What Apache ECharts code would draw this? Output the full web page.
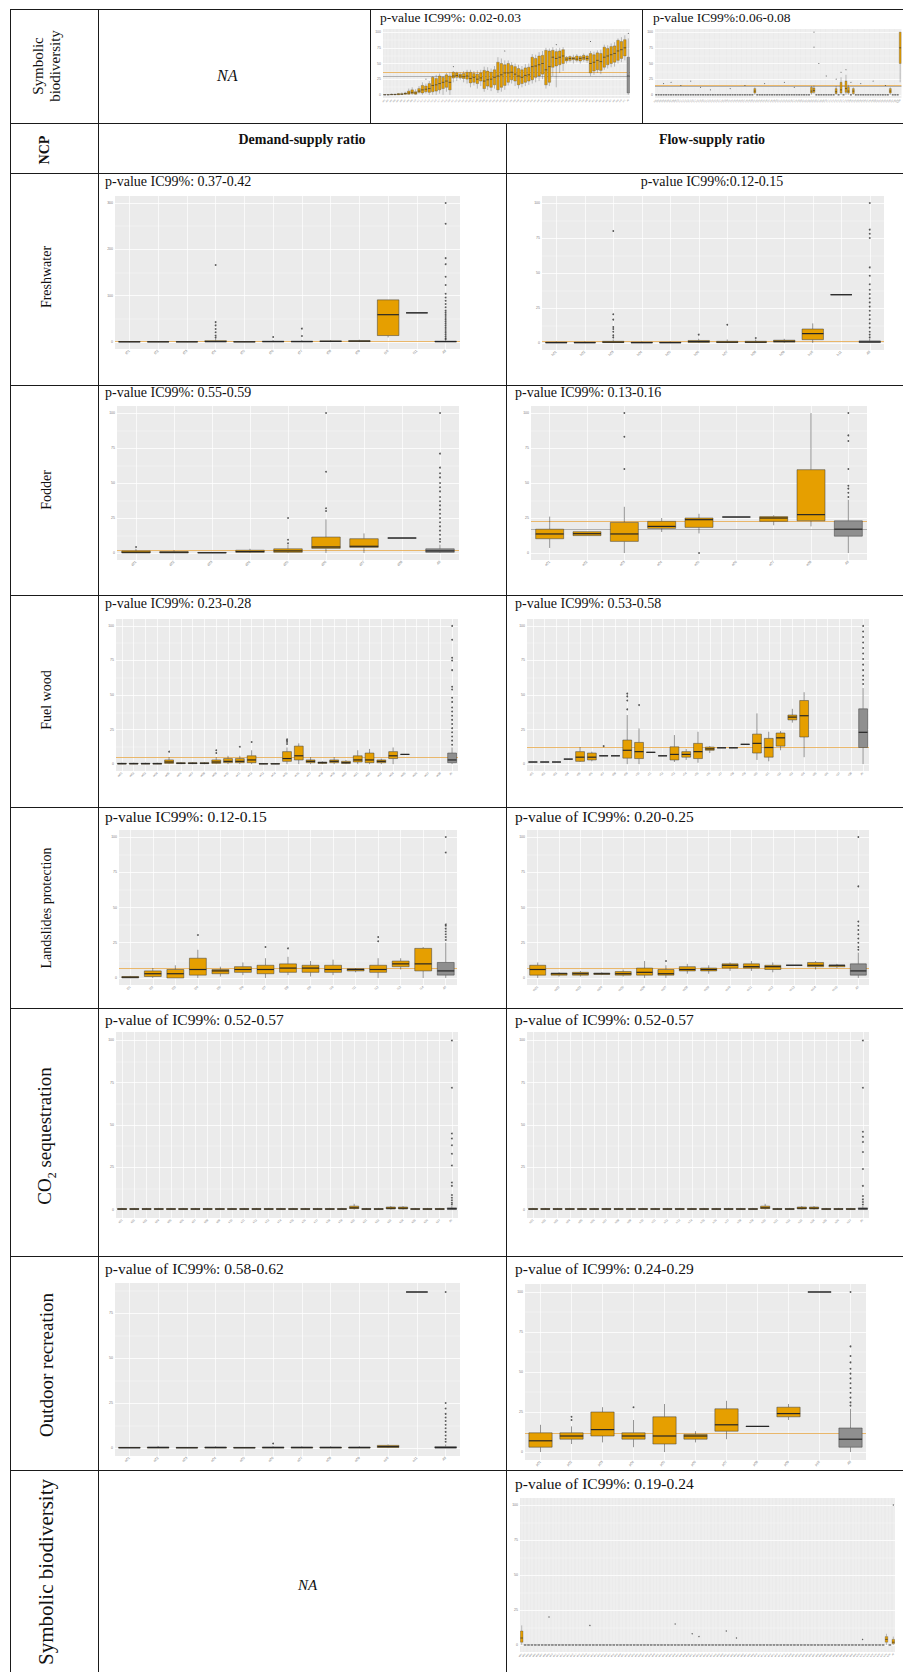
<!DOCTYPE html>
<html><head><meta charset="utf-8">
<script src="https://cdn.jsdelivr.net/npm/echarts@6/dist/echarts.min.js"></script>
<style>
html,body{margin:0;padding:0;background:#fff;}
#page{position:relative;width:903px;height:1672px;overflow:hidden;font-family:"Liberation Serif","DejaVu Serif",serif;color:#111;}
#chart{position:absolute;left:0;top:0;width:903px;height:1672px;}
.h{position:absolute;height:0;border-top:1.6px solid #1a1a1a;}
.v{position:absolute;width:0;border-left:1.6px solid #1a1a1a;}
.t{position:absolute;white-space:nowrap;line-height:1;}
.rot{position:absolute;white-space:nowrap;transform:translate(-50%,-50%) rotate(-90deg);text-align:center;line-height:1.1;}
</style></head>
<body>
<div id="page">
<div id="chart"></div>
<!-- table lines -->
<div class="h" style="left:10px;top:9px;width:900px"></div>
<div class="h" style="left:10px;top:123px;width:900px"></div>
<div class="h" style="left:10px;top:173px;width:900px"></div>
<div class="h" style="left:10px;top:385px;width:900px"></div>
<div class="h" style="left:10px;top:595px;width:900px"></div>
<div class="h" style="left:10px;top:807px;width:900px"></div>
<div class="h" style="left:10px;top:1008px;width:900px"></div>
<div class="h" style="left:10px;top:1256px;width:900px"></div>
<div class="h" style="left:10px;top:1470px;width:900px"></div>
<div class="v" style="left:10px;top:9px;height:1670px"></div>
<div class="v" style="left:98px;top:9px;height:1670px"></div>
<div class="v" style="left:370px;top:9px;height:114px"></div>
<div class="v" style="left:642px;top:9px;height:114px"></div>
<div class="v" style="left:506px;top:123px;height:1560px"></div>
<!-- texts -->
<div class="rot" style="left:46px;top:66px;font-size:15px">Symbolic<br>biodiversity</div>
<div class="t" style="left:217px;top:68px;font-size:16px;font-style:italic">NA</div>
<div class="t" style="left:380px;top:11px;font-size:13.5px">p-value IC99%: 0.02-0.03</div>
<div class="t" style="left:653px;top:11px;font-size:13.5px">p-value IC99%:0.06-0.08</div>
<div class="rot" style="left:45px;top:150px;font-size:14px;font-weight:bold">NCP</div>
<div class="t" style="left:302px;top:133px;font-size:14px;font-weight:bold;transform:translateX(-50%)">Demand-supply ratio</div>
<div class="t" style="left:712px;top:133px;font-size:14px;font-weight:bold;transform:translateX(-50%)">Flow-supply ratio</div>

<div class="rot" style="left:47px;top:277px;font-size:14px">Freshwater</div>
<div class="t" style="left:105px;top:175px;font-size:14px">p-value IC99%: 0.37-0.42</div>
<div class="t" style="left:712px;top:175px;font-size:14px;transform:translateX(-50%)">p-value IC99%:0.12-0.15</div>

<div class="rot" style="left:47px;top:490px;font-size:14px">Fodder</div>
<div class="t" style="left:105px;top:386px;font-size:14px">p-value IC99%: 0.55-0.59</div>
<div class="t" style="left:515px;top:386px;font-size:14px">p-value IC99%: 0.13-0.16</div>

<div class="rot" style="left:47px;top:700px;font-size:14px">Fuel wood</div>
<div class="t" style="left:105px;top:597px;font-size:14px">p-value IC99%: 0.23-0.28</div>
<div class="t" style="left:515px;top:597px;font-size:14px">p-value IC99%: 0.53-0.58</div>

<div class="rot" style="left:47px;top:908px;font-size:14px">Landslides protection</div>
<div class="t" style="left:105px;top:809px;font-size:15.5px">p-value IC99%: 0.12-0.15</div>
<div class="t" style="left:515px;top:809px;font-size:15.5px">p-value of IC99%: 0.20-0.25</div>

<div class="rot" style="left:47px;top:1136px;font-size:19px">CO<sub style="font-size:12px">2</sub> sequestration</div>
<div class="t" style="left:105px;top:1012px;font-size:15.5px">p-value of IC99%: 0.52-0.57</div>
<div class="t" style="left:515px;top:1012px;font-size:15.5px">p-value of IC99%: 0.52-0.57</div>

<div class="rot" style="left:47px;top:1365px;font-size:19px">Outdoor recreation</div>
<div class="t" style="left:105px;top:1261px;font-size:15.5px">p-value of IC99%: 0.58-0.62</div>
<div class="t" style="left:515px;top:1261px;font-size:15.5px">p-value of IC99%: 0.24-0.29</div>

<div class="rot" style="left:47px;top:1572px;font-size:21px">Symbolic biodiversity</div>
<div class="t" style="left:298px;top:1578px;font-size:15px;font-style:italic">NA</div>
<div class="t" style="left:515px;top:1476px;font-size:15.5px">p-value of IC99%: 0.19-0.24</div>
</div>
<script>
// ================= DATA =================
// box = [min, Q1, median, Q3, max]; outliers = [categoryIndex, value]
const tickLabels100 = [0, 25, 50, 75, 100];
const tickLabels300 = [0, 100, 200, 300];
const tickLabels75 = [0, 25, 50, 75];

// --- Symbolic biodiversity (top row, demand-supply) ---
const topDsrCats = "a01 a02 a03 a04 a05 a06 a07 a08 a09 a10 a11 a12 a13 a14 a15 a16 a17 a18 a19 a20 a21 a22 a23 a24 a25 a26 a27 a28 a29 a30 a31 a32 a33 a34 a35 a36 a37 a38 a39 a40 a41 a42 a43 a44 a45 a46 a47 a48 a49 a50 a51 a52 a53 a54 a55 a56 a57 a58 a59 a60 a61 a62 a63 a64 a65 a66 a67 a68 a69 a70 a71 All".split(" ");
const topDsrBox = [[0,0,0,0.5,1],[0,0,0,0.5,1],[0,0,0.5,1,2],[0,0,0.5,1,2],[0,0,1,2,3],[0,0.5,1,2,4],[0,1,2,3,5],[0,1,3,6,10],[0,2,4,8,12],[0,1,3,5,9],
[2,4,6,10,14],[0,3,8,15,20],[2,5,9,14,18],[0,4,10,18,22],[0,5,15,28,30],[0,6,16,26,32],[2,8,18,30,34],[0,10,20,28,30],[5,12,22,32,35],[0,8,20,30,36],
[20,27,30,36,38],[22,28,31,35,37],[24,27,30,33,36],[20,26,29,34,38],[18,25,30,36,40],[12,19,26,36,40],[15,20,28,34,38],[10,18,25,33,39],[14,22,27,35,40],[5,10,22,39,45],
[8,14,24,38,44],[6,12,25,36,42],[10,16,28,40,46],[3,8,30,52,60],[5,12,32,50,58],[8,15,35,48,55],[15,20,35,50,55],[18,24,36,47,52],[14,22,33,45,50],[10,16,30,42,48],
[12,18,28,40,46],[14,20,31,43,49],[16,22,32,44,50],[18,24,45,60,65],[20,28,46,58,64],[22,30,48,62,68],[25,33,50,63,70],[10,16,40,71,75],[14,20,45,70,74],[30,44,60,71,76],
[12,46,58,69,74],[35,48,60,70,75],[38,50,62,72,76],[50,54,57,60,62],[52,55,58,61,63],[50,56,58,60,64],[52,55,57,62,65],[50,54,58,61,63],[53,56,59,63,66],[51,55,58,62,64],
[30,35,50,66,70],[32,38,52,64,69],[35,40,55,67,71],[33,39,53,66,72],[40,44,60,76,80],[42,48,62,74,79],[44,50,64,77,82],[45,52,66,78,84],[50,55,70,87,90],[52,58,72,85,92],
[55,62,75,88,95],[0,3,30,60,90]];
const topDsrOut = [[12,25],[20,45],[35,70],[50,80],[60,85],[71,98]];

// --- Symbolic biodiversity (top row, flow-supply) ---
const topFsrCats = "b01 b02 b03 b04 b05 b06 b07 b08 b09 b10 b11 b12 b13 b14 b15 b16 b17 b18 b19 b20 b21 b22 b23 b24 b25 b26 b27 b28 b29 b30 b31 b32 b33 b34 b35 b36 b37 b38 b39 b40 b41 b42 b43 b44 b45 b46 b47 b48 b49 b50 b51 b52 b53 b54 b55 b56 b57 b58 b59 b60 b61 b62 b63 b64 b65 b66 b67 b68 b69 b70 b71 b72 b73 b74 b75 b76 b77 b78 b79 b80 b81 b82 b83 b84 b85 b86 b87 b88 b89 b90 b91 b92 b93 b94 b95 b96 b97 b98 b99 b100".split(" ");
const topFsrBox = [[0,0,0,0,0],[0,0,0,0,0],[0,0,0,0,0],[0,0,0,0,0],[0,0,0,0,0],[0,0,0,0,0],[0,0,0,0,0],[0,0,0,0,0],[0,0,0,0,0],[0,0,0,0,0],
[0,0,0,0,0],[0,0,0,0,0],[0,0,0,0,0],[0,0,0,0,0],[0,0,0,0,0],[0,0,0,0,0],[0,0,0,0,0],[0,0,0,0,0],[0,0,0,0,0],[0,0,0,0,0],
[0,0,0,0,0],[0,0,0,0,0],[0,0,0,0,0],[0,0,0,0,0],[0,0,0,0,0],[0,0,0,0,0],[0,0,0,0,0],[0,0,0,0,0],[0,0,0,0,0],[0,0,0,0,0],
[0,0,0,0,0],[0,0,0,0,0],[0,0,0,0,0],[0,0,0,0,0],[0,0,0,0,0],[0,0,0,0,0],[0,0,0,0,0],[0,0,0,0,0],[0,0,0,0,0],[0,0,0,0,0],
[0,3,6,10,12],[0,0,0,0,0],[0,0,0,0,0],[0,0,0,0,0],[0,0,0,0,0],[0,0,0,0,0],[0,0,0,0,0],[0,0,0,0,0],[0,0,0,0,0],[0,0,0,0,0],
[0,0,0,0,0],[0,0,0,0,0],[0,0,0,0,0],[0,0,0,0,0],[0,0,0,0,0],[0,0,0,0,0],[0,0,0,0,0],[0,0,0,0,0],[0,0,0,0,0],[0,0,0,0,0],
[0,0,0,0,0],[0,0,0,0,0],[0,0,0,0,0],[0,3,6,12,14],[2,4,7,11,15],[0,0,0,0,0],[0,0,0,0,0],[0,0,0,0,0],[0,0,0,0,0],[0,0,0,0,0],
[0,0,0,0,0],[0,0,0,0,0],[0,0,0,0,0],[0,2,5,10,14],[0,0,0,0,0],[0,3,8,20,28],[0,0,0,0,0],[0,4,10,22,32],[0,3,6,12,16],[0,0,0,0,0],
[0,2,6,10,12],[0,0,0,0,0],[0,0,0,0,0],[0,0,0,0,0],[0,0,0,0,0],[0,0,0,0,0],[0,0,0,0,0],[0,0,0,0,0],[0,0,0,0,0],[0,0,0,0,0],
[0,0,0,0,0],[0,0,0,0,0],[0,0,0,0,0],[0,0,0,0,0],[0,0,0,0,0],[0,3,6,10,12],[0,0,0,0,0],[0,0,0,0,0],[0,0,0,0,0],[20,50,75,100,100]];
const topFsrOut = [[3,18],[6,20],[10,15],[14,22],[18,12],[22,8],[30,10],[36,15],[44,18],[52,20],[56,12],[64,100],[64,76],[66,50],[69,30],[73,25],[75,36],[77,40],[79,20],[83,18],[88,22],[93,15]];

// --- Freshwater ---
const freshDsrCats = ['f01','f02','f03','f04','f05','f06','f07','f08','f09','f10','f11','All'];
const freshDsrBox = [[0,0,0.5,1,2],[0,0,0.5,1,2],[0,0,0.5,1,2],[0,0.5,1,3,8],[0,0,0.5,1,2],[0,0.5,1,2,4],[0,0.5,1,2,4],[0,1,1.5,2.5,4],[0,1,2,3,5],[10,14,59,91,91],[63,63,63,63,63],[0,0.5,1,2,4]];
const freshDsrOut = [[3,166],[3,43],[3,36],[3,28],[3,21],[3,14],[3,10],[5,11],[6,29],[6,13],[11,300],[11,255],[11,181],[11,168],[11,141],[11,123],[11,104],[11,96],[11,89],[11,82],[11,75],[11,68],[11,64],[11,60],[11,56],[11,52],[11,48],[11,44],[11,40],[11,36],[11,32],[11,28],[11,24],[11,20],[11,16],[11,12],[11,8],[11,6]];
const freshFsrCats = ['h01','h02','h03','h04','h05','h06','h07','h08','h09','h10','h11','All'];
const freshFsrBox = [[0,0,0.3,0.6,1],[0,0,0.3,0.6,1],[0,0.3,0.6,1.2,2.5],[0,0,0.3,0.6,1],[0,0,0.3,0.6,1],[0,0.4,1,1.8,3],[0,0.3,0.6,1.2,2.5],[0,0.3,0.6,1.2,2.5],[0,0.6,1.2,2,3],[0,2.4,6.7,10,14],[34.5,34.5,34.5,34.5,34.5],[0,0.3,0.8,1.5,3]];
const freshFsrOut = [[2,80],[2,20.5],[2,16.7],[2,11.4],[2,10],[2,8],[2,5.5],[2,4],[5,6],[6,13],[7,3.6],[11,100],[11,81],[11,78],[11,75],[11,54],[11,48],[11,42],[11,38],[11,35],[11,32],[11,29],[11,26],[11,23],[11,20],[11,17],[11,14],[11,11],[11,8],[11,6],[11,4]];

// --- Fodder ---
const fodDsrCats = ['d01','d02','d03','d04','d05','d06','d07','d08','All'];
const fodDsrBox = [[0,0,0.5,1.5,3],[0,0,0.5,1,2],[0,0,0.2,0.4,0.8],[0,0.5,1,2,3],[0,0.5,1.5,3,6],[0,3.3,4.3,11.4,24],[0,4,4.8,10.2,14],[10.7,10.7,10.7,10.7,10.7],[0,0.5,1.5,3,6]];
const fodDsrOut = [[0,4.3],[4,25],[4,9.5],[4,7],[5,100],[5,58],[5,32],[5,30],[8,100],[8,71],[8,61],[8,57],[8,54],[8,50],[8,47],[8,44],[8,40],[8,37],[8,34],[8,31],[8,28],[8,25],[8,22],[8,19],[8,16],[8,13],[8,10],[8,8]];
const fodFsrCats = ['e01','e02','e03','e04','e05','e06','e07','e08','All'];
const fodFsrBox = [[3.6,10.2,13.6,17,26],[12.4,12.4,13.8,15.2,15.2],[0,8.3,13.6,21.9,33],[15,17.6,19,22.6,25],[14,18.3,23.8,25,28],[25.7,25.7,25.7,25.7,25.7],[19.8,22.6,25,26,27],[19,23,27.4,59.5,100],[0,12,17,23,38]];
const fodFsrOut = [[2,100],[2,83],[2,60],[4,0],[8,100],[8,84],[8,80],[8,60],[8,48],[8,46],[8,43],[8,40]];

// --- Fuel wood ---
const fuelDsrCats = "w01 w02 w03 w04 w05 w06 w07 w08 w09 w10 w11 w12 w13 w14 w15 w16 w17 w18 w19 w20 w21 w22 w23 w24 w25 w26 w27 w28 All".split(" ");
const fuelDsrBox = [[0,0,0.3,0.6,1],[0,0,0.3,0.6,1],[0,0,0.3,0.6,1],[0,0,0.3,0.6,1],[0,0.5,1.5,3,5],[0,0.3,0.6,1,1.5],[0,0.3,0.6,1,1.5],[0,0.3,0.6,1,1.5],[0,0.5,1.5,3,5],[0,1,2,4,6],
[0,1,2,4,6],[0,1,3,6,10],[0,0,0.2,0.4,0.6],[0,0,0.2,0.4,0.6],[0,2,4,9,12],[0,3,6,13,15],[0,1,2,3,5],[0,0.5,1,1.5,2],[0,1,2,3,5],[0,0.5,1,2,3],
[0,1.5,3,6,10],[0,1,3,8,11],[0,1,2,3,4],[0,4,6,9,12],[7,7,7,7,7],null,null,null,[0,1,3,8,12]];
const fuelDsrOut = [[4,9],[8,8],[8,10],[10,12.5],[11,16],[14,14.5],[14,16],[14,17],[14,18],[28,100],[28,90],[28,77],[28,75],[28,68],[28,56],[28,54],[28,48],[28,45],[28,41],[28,38],[28,35],[28,32],[28,29],[28,26],[28,23],[28,20],[28,17],[28,14]];
const fuelFsrCats = "v01 v02 v03 v04 v05 v06 v07 v08 v09 v10 v11 v12 v13 v14 v15 v16 v17 v18 v19 v20 v21 v22 v23 v24 v25 v26 v27 v28 All".split(" ");
const fuelFsrBox = [[1.5,1.5,1.5,1.5,1.5],[1.5,1.5,1.5,1.5,1.5],[1.5,1.5,1.5,1.5,1.5],[3.6,3.6,3.6,3.6,3.6],[1.5,2,5,9,12.3],[2,3,5,8,9],[6,6,6,6,6],[6,6,6,6,6],[0,4.3,10,17.4,35.5],[0,4,9,15.7,25.8],
[8.5,8.5,8.5,8.5,8.5],[6,6,6,6,6],[1.5,3,7,12.5,21],[3,5,7,9,11],[1,4,9,15,23.4],[8,10,11,12.3,13],[11.8,11.8,11.8,11.8,11.8],[11.8,11.8,11.8,11.8,11.8],[14.3,14.3,14.3,14.3,14.3],[3,8,15,21.7,36.7],
[2,5,12,18.6,23.4],[10,13,19,22.5,24],[30,32,34,35.5,40],[5,19.6,35,46,52],null,null,null,null,[0,12,23,40,55]];
const fuelFsrOut = [[6,13],[8,39.6],[8,46],[8,49],[8,51],[9,42.7],[28,100],[28,96],[28,92],[28,88],[28,84],[28,80],[28,76],[28,72],[28,68],[28,64],[28,61],[28,58]];

// --- Landslides protection ---
const landDsrCats = ['l01','l02','l03','l04','l05','l06','l07','l08','l09','l10','l11','l12','l13','l14','All'];
const landDsrBox = [[0,0,0.5,1,1.5],[0,1,3,5,7],[0,0,3,6,9],[0,2,6,14,20],[1,3,5,6,8],[2,4,6,8,11],[0,3,6,9,14],[2,4,7,10,15],[1,4,7,9,12],[2,4,6,9,13],[4,5,6,6.5,7],[0,4,6,9,14],[6,8,10,12,14],[0,5,10,21,22],[0,2,5,11,25]];
const landDsrOut = [[3,30.5],[6,22],[7,21],[11,26],[11,29],[14,100],[14,89],[14,38],[14,37],[14,35],[14,33],[14,31],[14,29],[14,27]];
const landFsrCats = ['m01','m02','m03','m04','m05','m06','m07','m08','m09','m10','m11','m12','m13','m14','m15','All'];
const landFsrBox = [[0,2,6,9,11],[1,2,3,3.5,4],[1,2,3,4,5],[2,2.5,3,3.5,4],[1,2,3,4.5,6],[0,2,4,7,12],[0,2,3,6,9],[3,5,6,8,10],[3,5,6,7,9],[5,7,9,10,11],[5,7,8,10,12],[4,6,8,9,11],[9,9,9,9,9],[6,8,9,11,12],[7,8,9,9,10],[0,2,5,10,18]];
const landFsrOut = [[6,12],[15,100],[15,65],[15,40],[15,37],[15,34],[15,31],[15,28],[15,25],[15,22],[15,20]];

// --- CO2 sequestration ---
const co2DsrCats = "k01 k02 k03 k04 k05 k06 k07 k08 k09 k10 k11 k12 k13 k14 k15 k16 k17 k18 k19 k20 k21 k22 k23 k24 k25 k26 k27 All".split(" ");
const co2DsrBox = [[0,0,0.3,0.6,1],[0,0,0.3,0.6,1],[0,0,0.3,0.6,1],[0,0,0.3,0.6,1],[0,0,0.3,0.6,1],[0,0,0.3,0.6,1],[0,0,0.3,0.6,1],[0,0,0.3,0.6,1],[0,0,0.3,0.6,1],[0,0,0.3,0.6,1],
[0,0,0.3,0.6,1],[0,0,0.3,0.6,1],[0,0,0.3,0.6,1],[0,0,0.3,0.6,1],[0,0,0.3,0.6,1],[0,0,0.3,0.6,1],[0,0,0.3,0.6,1],[0,0,0.3,0.6,1],[0,0,0.3,0.6,1],[0,0.5,1,2,3.4],
[0,0,0.3,0.6,1],[0,0,0.3,0.6,1],[0,0.3,0.8,1.5,2],[0,0.3,0.8,1.5,2],[0,0,0.3,0.6,1],[0,0,0.3,0.6,1],[0,0,0.3,0.6,1],[0,0,0.5,1,2]];
const co2DsrOut = [[27,100],[27,72],[27,45],[27,42],[27,38],[27,33],[27,26],[27,16],[27,14],[27,8.6],[27,7],[27,5.5],[27,4],[27,3]];
const co2FsrCats = "n01 n02 n03 n04 n05 n06 n07 n08 n09 n10 n11 n12 n13 n14 n15 n16 n17 n18 n19 n20 n21 n22 n23 n24 n25 n26 n27 All".split(" ");
const co2FsrBox = [[0,0,0.3,0.6,1],[0,0,0.3,0.6,1],[0,0,0.3,0.6,1],[0,0,0.3,0.6,1],[0,0,0.3,0.6,1],[0,0,0.3,0.6,1],[0,0,0.3,0.6,1],[0,0,0.3,0.6,1],[0,0,0.3,0.6,1],[0,0,0.3,0.6,1],
[0,0,0.3,0.6,1],[0,0,0.3,0.6,1],[0,0,0.3,0.6,1],[0,0,0.3,0.6,1],[0,0,0.3,0.6,1],[0,0,0.3,0.6,1],[0,0,0.3,0.6,1],[0,0,0.3,0.6,1],[0,0,0.3,0.6,1],[0,0.5,1,2,3.4],
[0,0,0.3,0.6,1],[0,0,0.3,0.6,1],[0,0.3,0.8,1.5,2],[0,0.3,0.8,1.5,2],[0,0,0.3,0.6,1],[0,0,0.3,0.6,1],[0,0,0.3,0.6,1],[0,0,0.5,1,2]];
const co2FsrOut = [[27,100],[27,72],[27,46],[27,43],[27,40],[27,34],[27,24],[27,14],[27,8],[27,6],[27,4.5],[27,3]];

// --- Outdoor recreation ---
const outDsrCats = ['o01','o02','o03','o04','o05','o06','o07','o08','o09','o10','o11','All'];
const outDsrBox = [[0,0,0.2,0.4,0.6],[0,0,0.3,0.6,1.2],[0,0,0.2,0.4,0.6],[0,0,0.3,0.6,1],[0,0,0.2,0.4,0.6],[0,0,0.3,0.6,1],[0,0,0.3,0.6,1],[0,0,0.3,0.6,1],[0,0,0.3,0.6,1],[0,0.3,0.8,1.5,2],[86.7,86.7,86.7,86.7,86.7],[0,0,0.3,0.8,2]];
const outDsrOut = [[5,2.5],[11,86.7],[11,25],[11,22],[11,19],[11,17],[11,15],[11,13],[11,11],[11,9],[11,7],[11,5],[11,3.5]];
const outFsrCats = ['p01','p02','p03','p04','p05','p06','p07','p08','p09','p10','All'];
const outFsrBox = [[0,3,7,12,17],[5,8,10,12,16],[6,10,14,25,28],[3,8,10,12,20],[0,5,10,22,30],[6,8,10,11,13],[8,13,17,27,32],[16,16,16,16,16],[20,22,24,28,30],[100,100,100,100,100],[0,3,8,15,27]];
const outFsrOut = [[1,20],[1,22],[3,28],[10,100],[10,66],[10,60],[10,56],[10,52],[10,49],[10,46],[10,43],[10,40],[10,37],[10,34],[10,31],[10,29]];

// --- Symbolic biodiversity (bottom row, flow-supply) ---
const symFsrCats = "q001 q002 q003 q004 q005 q006 q007 q008 q009 q010 q011 q012 q013 q014 q015 q016 q017 q018 q019 q020 q021 q022 q023 q024 q025 q026 q027 q028 q029 q030 q031 q032 q033 q034 q035 q036 q037 q038 q039 q040 q041 q042 q043 q044 q045 q046 q047 q048 q049 q050 q051 q052 q053 q054 q055 q056 q057 q058 q059 q060 q061 q062 q063 q064 q065 q066 q067 q068 q069 q070 q071 q072 q073 q074 q075 q076 q077 q078 q079 q080 q081 q082 q083 q084 q085 q086 q087 q088 q089 q090 q091 q092 q093 q094 q095 q096 q097 q098 q099 q100 q101 q102 q103 q104 q105 q106 q107 q108 q109 All".split(" ");
const symFsrBox = [[0,2,5,10,14],[0,0,0,0,0],[0,0,0,0,0],[0,0,0,0,0],[0,0,0,0,0],[0,0,0,0,0],[0,0,0,0,0],[0,0,0,0,0],[0,0,0,0,0],[0,0,0,0,0],
[0,0,0,0,0],[0,0,0,0,0],[0,0,0,0,0],[0,0,0,0,0],[0,0,0,0,0],[0,0,0,0,0],[0,0,0,0,0],[0,0,0,0,0],[0,0,0,0,0],[0,0,0,0,0],
[0,0,0,0,0],[0,0,0,0,0],[0,0,0,0,0],[0,0,0,0,0],[0,0,0,0,0],[0,0,0,0,0],[0,0,0,0,0],[0,0,0,0,0],[0,0,0,0,0],[0,0,0,0,0],
[0,0,0,0,0],[0,0,0,0,0],[0,0,0,0,0],[0,0,0,0,0],[0,0,0,0,0],[0,0,0,0,0],[0,0,0,0,0],[0,0,0,0,0],[0,0,0,0,0],[0,0,0,0,0],
[0,0,0,0,0],[0,0,0,0,0],[0,0,0,0,0],[0,0,0,0,0],[0,0,0,0,0],[0,0,0,0,0],[0,0,0,0,0],[0,0,0,0,0],[0,0,0,0,0],[0,0,0,0,0],
[0,0,0,0,0],[0,0,0,0,0],[0,0,0,0,0],[0,0,0,0,0],[0,0,0,0,0],[0,0,0,0,0],[0,0,0,0,0],[0,0,0,0,0],[0,0,0,0,0],[0,0,0,0,0],
[0,0,0,0,0],[0,0,0,0,0],[0,0,0,0,0],[0,0,0,0,0],[0,0,0,0,0],[0,0,0,0,0],[0,0,0,0,0],[0,0,0,0,0],[0,0,0,0,0],[0,0,0,0,0],
[0,0,0,0,0],[0,0,0,0,0],[0,0,0,0,0],[0,0,0,0,0],[0,0,0,0,0],[0,0,0,0,0],[0,0,0,0,0],[0,0,0,0,0],[0,0,0,0,0],[0,0,0,0,0],
[0,0,0,0,0],[0,0,0,0,0],[0,0,0,0,0],[0,0,0,0,0],[0,0,0,0,0],[0,0,0,0,0],[0,0,0,0,0],[0,0,0,0,0],[0,0,0,0,0],[0,0,0,0,0],
[0,0,0,0,0],[0,0,0,0,0],[0,0,0,0,0],[0,0,0,0,0],[0,0,0,0,0],[0,0,0,0,0],[0,0,0,0,0],[0,0,0,0,0],[0,0,0,0,0],[0,0,0,0,0],
[0,0,0,0,0],[0,0,0,0,0],[0,0,0,0,0],[0,0,0,0,0],[0,0,0,0,0],[0,0,0,0,0],[0,0,0,0,0],[0,2,4,6,8],[0,0,0,0,0],[0,1,2,4,6]];
const symFsrOut = [[8,20],[20,14],[45,15],[50,8],[52,6],[60,10],[63,5],[100,4],[109,100]];

// ================= PANELS (layout) =================
const ORANGE = '#E69F00';
const panels = [
  {g:[383,29,247,69], cats:topDsrCats, box:topDsrBox, out:topDsrOut, y:[-5,105], ticks:tickLabels100, refs:[[36,'#E8A94A'],[30,'#a0a0a0']], greyLast:true, fs:2, ps:1},
  {g:[655,29,248,69], cats:topFsrCats, box:topFsrBox, out:topFsrOut, y:[-5,105], ticks:tickLabels100, refs:[[16,'#E8A94A'],[13,'#a0a0a0']], greyLast:false, fs:2, ps:1},
  {g:[115,196,345,153], cats:freshDsrCats, box:freshDsrBox, out:freshDsrOut, y:[-15,315], ticks:tickLabels300, refs:[[2,'#E8A94A']], greyLast:true, fs:3.5},
  {g:[542,196,342,154], cats:freshFsrCats, box:freshFsrBox, out:freshFsrOut, y:[-5,105], ticks:tickLabels100, refs:[[1.5,'#E8A94A']], greyLast:true, fs:3.5},
  {g:[117,406,342,154], cats:fodDsrCats, box:fodDsrBox, out:fodDsrOut, y:[-5,105], ticks:tickLabels100, refs:[[2,'#E8A94A']], greyLast:true, fs:3.5},
  {g:[531,406,336,154], cats:fodFsrCats, box:fodFsrBox, out:fodFsrOut, y:[-5,105], ticks:tickLabels100, refs:[[22.6,'#E8A94A'],[16.7,'#a0a0a0']], greyLast:true, fs:3.5},
  {g:[116,619,342,152], cats:fuelDsrCats, box:fuelDsrBox, out:fuelDsrOut, y:[-5,105], ticks:tickLabels100, refs:[[5,'#E8A94A']], greyLast:true, fs:3},
  {g:[527,619,342,152], cats:fuelFsrCats, box:fuelFsrBox, out:fuelFsrOut, y:[-5,105], ticks:tickLabels100, refs:[[12,'#E8A94A']], greyLast:true, fs:3},
  {g:[119,830,338,155], cats:landDsrCats, box:landDsrBox, out:landDsrOut, y:[-5,105], ticks:tickLabels100, refs:[[7,'#E8A94A']], greyLast:true, fs:3.2},
  {g:[527,830,342,155], cats:landFsrCats, box:landFsrBox, out:landFsrOut, y:[-5,105], ticks:tickLabels100, refs:[[7,'#E8A94A']], greyLast:true, fs:3.2},
  {g:[116,1032,342,186], cats:co2DsrCats, box:co2DsrBox, out:co2DsrOut, y:[-5,105], ticks:tickLabels100, refs:[], greyLast:true, fs:3},
  {g:[527,1032,342,186], cats:co2FsrCats, box:co2FsrBox, out:co2FsrOut, y:[-5,105], ticks:tickLabels100, refs:[], greyLast:true, fs:3},
  {g:[115,1283,345,173], cats:outDsrCats, box:outDsrBox, out:outDsrOut, y:[-4.4,91.7], ticks:tickLabels75, refs:[], greyLast:true, fs:3.5},
  {g:[525,1284,341,176], cats:outFsrCats, box:outFsrBox, out:outFsrOut, y:[-5,105], ticks:tickLabels100, refs:[[12,'#E8A94A']], greyLast:true, fs:3.5},
  {g:[520,1498,375,154], cats:symFsrCats, box:symFsrBox, out:symFsrOut, y:[-5,105], ticks:tickLabels100, refs:[], greyLast:false, fs:2, ps:1.3}
];

function makeRender(greyIdx){
  return function(params, api){
    const i = api.value(0);
    const mn = api.value(1), q1 = api.value(2), md = api.value(3), q3 = api.value(4), mx = api.value(5);
    const bw = api.size([1,0])[0]*0.75;
    const pMin = api.coord([i,mn]), pQ1 = api.coord([i,q1]), pMd = api.coord([i,md]), pQ3 = api.coord([i,q3]), pMx = api.coord([i,mx]);
    const x = pMd[0];
    const lw = bw < 4 ? 0.3 : 0.5;
    return {type:'group', children:[
      {type:'line', shape:{x1:x,y1:pMin[1],x2:x,y2:pQ1[1]}, style:{stroke:'#333',lineWidth:lw}},
      {type:'line', shape:{x1:x,y1:pQ3[1],x2:x,y2:pMx[1]}, style:{stroke:'#333',lineWidth:lw}},
      {type:'rect', shape:{x:x-bw/2, y:pQ3[1], width:bw, height:Math.max(pQ1[1]-pQ3[1],0)}, style:{fill: i===greyIdx ? '#8f8f8f' : ORANGE, stroke:'#3b3b3b', lineWidth:lw}},
      {type:'line', shape:{x1:x-bw/2,y1:pMd[1],x2:x+bw/2,y2:pMd[1]}, style:{stroke:'#262626', lineWidth: bw < 4 ? 0.6 : 1.2}}
    ]};
  };
}

const option = {animation:false, grid:[], xAxis:[], yAxis:[], series:[]};
panels.forEach((p,k)=>{
  option.grid.push({left:p.g[0], top:p.g[1], width:p.g[2], height:p.g[3], show:true, backgroundColor:'#EBEBEB', borderWidth:0});
  option.xAxis.push({type:'category', gridIndex:k, data:p.cats, boundaryGap:true,
    axisLine:{show:false}, axisTick:{show:false}, splitLine:{show:false},
    axisLabel:{interval:0, rotate:45, fontSize:p.fs, color:'#7d7d7d', margin:1.5, fontFamily:'Liberation Sans'}});
  option.yAxis.push({type:'value', gridIndex:k, min:p.y[0], max:p.y[1],
    axisLine:{show:false}, axisTick:{show:false}, splitLine:{show:false},
    axisLabel:{customValues:p.ticks, fontSize:3.5, color:'#7d7d7d', margin:2, fontFamily:'Liberation Sans'}});
  const ml = [];
  const step = p.ticks[1]-p.ticks[0];
  p.ticks.forEach(v=>{
    ml.push({yAxis:v, lineStyle:{color:'#ffffff', width:0.8, type:'solid'}});
    if (v+step/2 < p.y[1]) ml.push({yAxis:v+step/2, lineStyle:{color:'#f7f7f7', width:0.4, type:'solid'}});
  });
  p.cats.forEach(c=> ml.push({xAxis:c, lineStyle:{color:'#ffffff', width: p.cats.length>60?0.3:0.7, type:'solid'}}));
  p.refs.forEach(r=> ml.push({yAxis:r[0], lineStyle:{color:r[1], width:0.8, type:'solid'}}));
  const greyIdx = p.greyLast ? p.box.length-1 : -1;
  const data = [];
  p.box.forEach((b,i)=>{ if (b) data.push([i].concat(b)); });
  option.series.push({type:'custom', xAxisIndex:k, yAxisIndex:k, z:3, clip:true, silent:true,
    renderItem: makeRender(greyIdx), encode:{x:0, y:[1,2,3,4,5]}, data:data,
    markLine:{silent:true, z:1, symbol:['none','none'], label:{show:false}, animation:false, data:ml}});
  option.series.push({type:'scatter', xAxisIndex:k, yAxisIndex:k, z:4, silent:true, clip:true,
    symbolSize:p.ps||1.8, itemStyle:{color:'#2e2e2e'}, data:p.out});
});
const chart = echarts.init(document.getElementById('chart'), null, {renderer:'svg'});
chart.setOption(option);
</script>
</body></html>
